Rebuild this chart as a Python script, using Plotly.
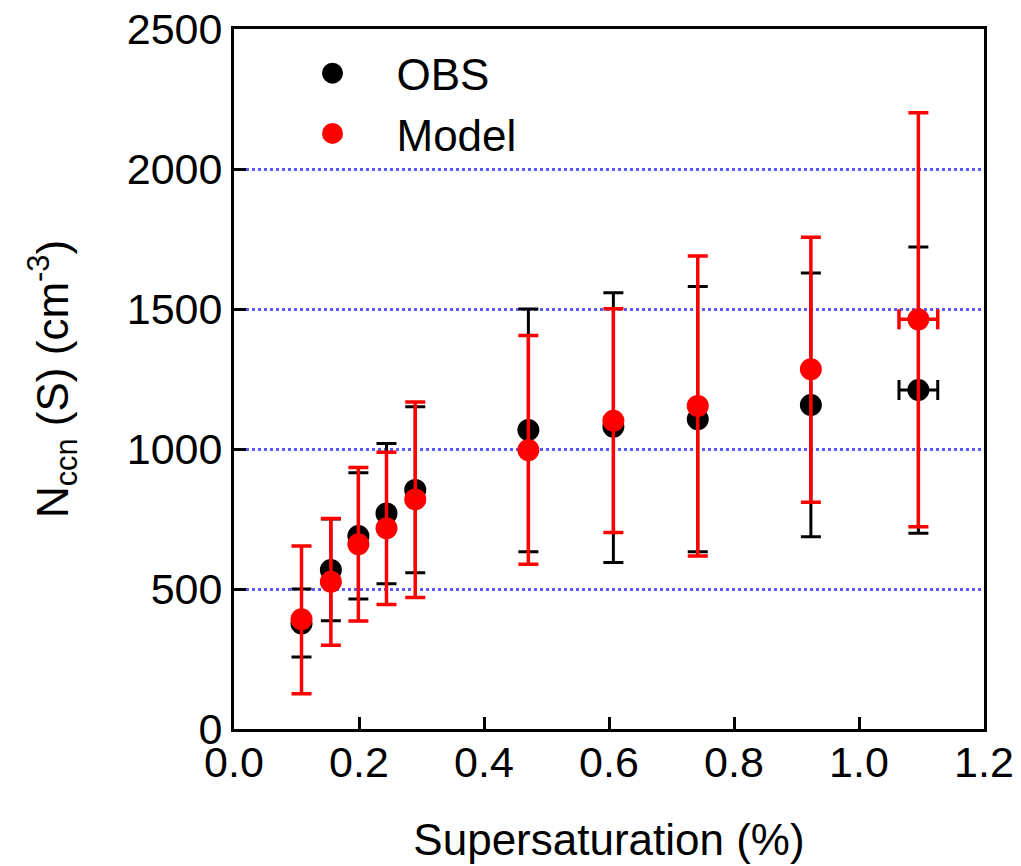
import plotly.graph_objects as go

# Supersaturation (%)
S = [0.108, 0.155, 0.199, 0.244, 0.290, 0.471, 0.607, 0.742, 0.923, 1.095]
S_err = [None, None, None, None, None, None, None, None, None, 0.031]

# Observations
OBS = [377, 568, 689, 770, 854, 1068, 1080, 1106, 1157, 1211]
OBS_hi = [500, 750, 915, 1020, 1151, 1500, 1558, 1580, 1629, 1721]
OBS_lo = [257, 387, 464, 519, 558, 633, 595, 633, 687, 699]

# Model
MOD = [392, 526, 660, 717, 820, 996, 1101, 1154, 1285, 1463]
MOD_hi = [654, 752, 934, 988, 1168, 1405, 1501, 1689, 1756, 2201]
MOD_lo = [126, 299, 386, 445, 470, 588, 702, 618, 810, 722]

obs_plus = [h - v for h, v in zip(OBS_hi, OBS)]
obs_minus = [v - l for v, l in zip(OBS, OBS_lo)]
mod_plus = [h - v for h, v in zip(MOD_hi, MOD)]
mod_minus = [v - l for v, l in zip(MOD, MOD_lo)]

FONT = "Arial, Liberation Sans, sans-serif"

fig = go.Figure()
fig.add_trace(go.Scatter(
    x=S, y=OBS, mode="markers", name="OBS",
    marker=dict(color="black", size=17, line=dict(color="black", width=5)),
    error_y=dict(type="data", symmetric=False, array=obs_plus, arrayminus=obs_minus,
                 color="black", thickness=3, width=10),
    error_x=dict(type="data", array=S_err, color="black", thickness=3, width=10),
))
fig.add_trace(go.Scatter(
    x=S, y=MOD, mode="markers", name="Model",
    marker=dict(color="red", size=17, line=dict(color="red", width=5)),
    error_y=dict(type="data", symmetric=False, array=mod_plus, arrayminus=mod_minus,
                 color="red", thickness=3.5, width=10),
    error_x=dict(type="data", array=S_err, color="red", thickness=3.5, width=10),
))

axis_common = dict(
    showline=True, linewidth=3, linecolor="black", mirror=True,
    ticks="inside", ticklen=12, tickwidth=3, tickcolor="black",
    zeroline=False, automargin=False, ticklabeloverflow="allow",
    tickfont=dict(family=FONT, size=43, color="black"),
)

fig.update_layout(
    width=1021, height=866,
    margin=dict(l=226, r=45, t=21, b=145),
    paper_bgcolor="white", plot_bgcolor="white",
    font=dict(family=FONT, color="black"),
    showlegend=True,
    legend=dict(x=0.046, y=0.987, xanchor="left", yanchor="top",
                bgcolor="rgba(0,0,0,0)", itemwidth=118,
                font=dict(family=FONT, size=44, color="black"),
                tracegroupgap=0),
    xaxis=dict(range=[0, 1.2], dtick=0.2, tick0=0, tickformat=".1f", showgrid=False,
               ticklabelstandoff=-7,
               title=dict(text="Supersaturation (%)", font=dict(family=FONT, size=44),
                          standoff=40),
               **axis_common),
    yaxis=dict(range=[0, 2500], dtick=500, tick0=0, showgrid=True,
               gridcolor="#5a5aff", gridwidth=3, griddash="dot",
               ticklabelstandoff=0,
               title=dict(text="N<sub>ccn</sub> (S) (cm<sup>-3</sup>)",
                          font=dict(family=FONT, size=44), standoff=45),
               **axis_common),
)

fig.write_html("out.html")
